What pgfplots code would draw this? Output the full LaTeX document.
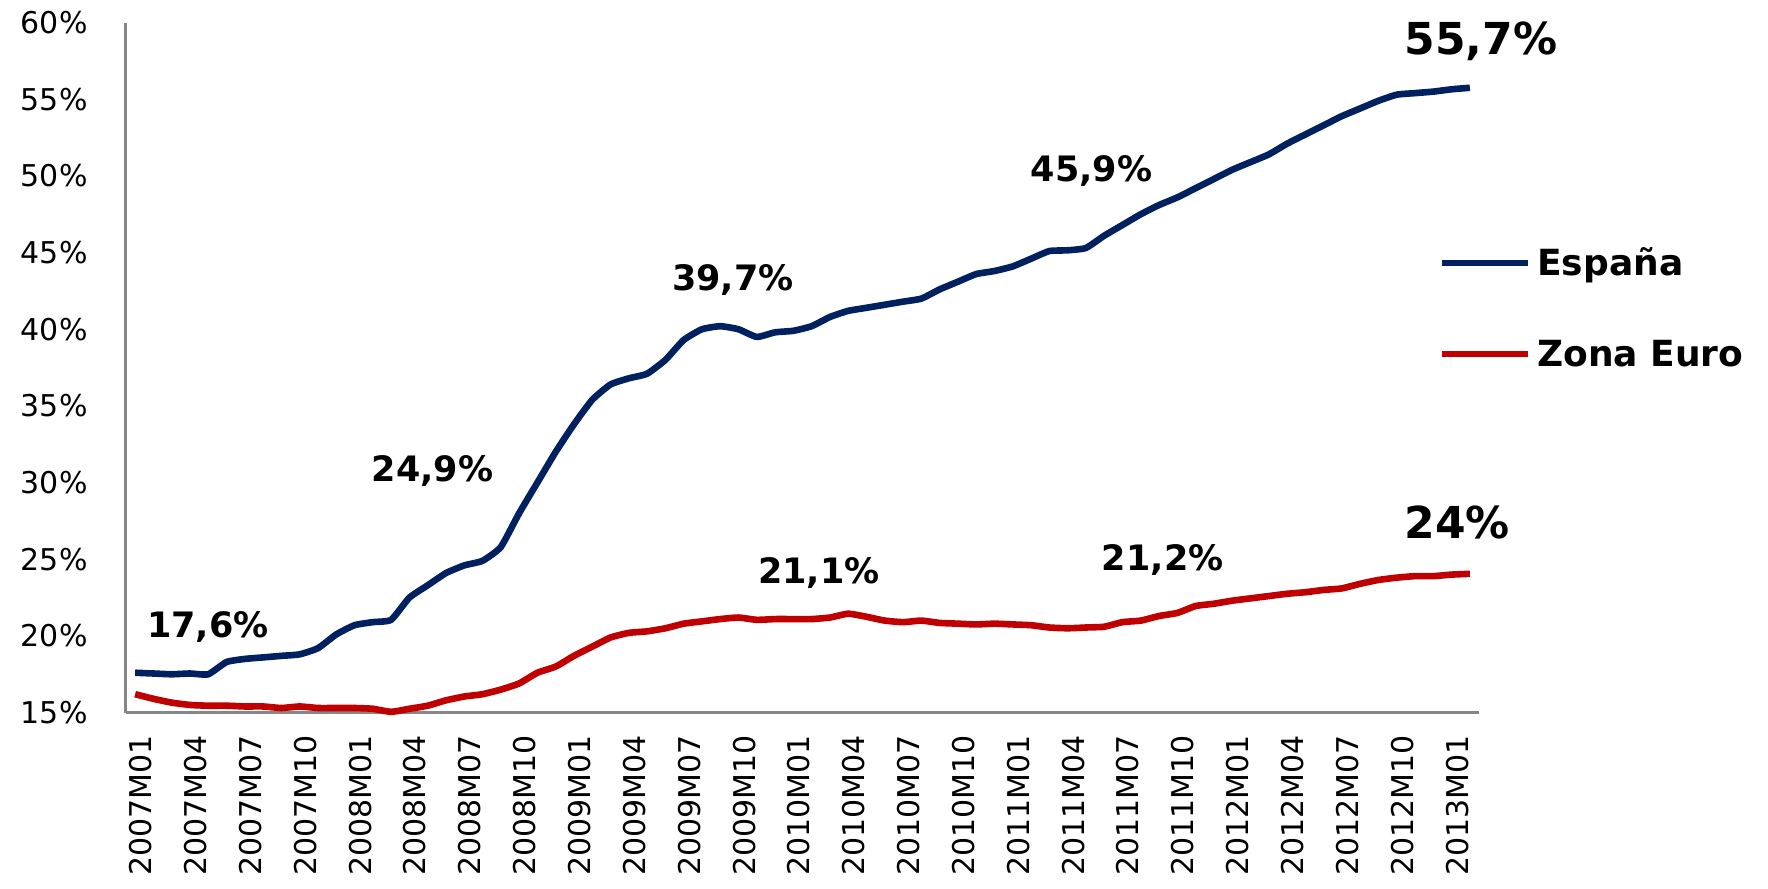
\documentclass[border=0pt]{standalone}
\usepackage{fontspec}
\setmainfont{DejaVu Sans}
\usepackage{pgfplots}
\usepackage{pgfplotstable}
\pgfplotsset{compat=1.18}
\definecolor{esp}{HTML}{002060}
\definecolor{eur}{HTML}{C00000}
\definecolor{axgray}{HTML}{868686}

\pgfplotstableread{
i esp eur
0 17.6 16.2
1 17.55 15.9
2 17.5 15.65
3 17.55 15.5
4 17.5 15.45
5 18.3 15.45
6 18.5 15.4
7 18.6 15.4
8 18.7 15.3
9 18.8 15.4
10 19.2 15.3
11 20.1 15.3
12 20.7 15.3
13 20.9 15.25
14 21.05 15.05
15 22.5 15.25
16 23.3 15.45
17 24.1 15.8
18 24.6 16.05
19 24.9 16.2
20 25.8 16.5
21 28.0 16.9
22 30.0 17.6
23 32.0 18.0
24 33.8 18.7
25 35.4 19.3
26 36.4 19.9
27 36.8 20.2
28 37.1 20.3
29 38.0 20.5
30 39.3 20.8
31 40.0 20.95
32 40.2 21.1
33 40.0 21.2
34 39.5 21.05
35 39.8 21.1
36 39.9 21.1
37 40.2 21.1
38 40.8 21.2
39 41.2 21.45
40 41.4 21.25
41 41.6 21.0
42 41.8 20.9
43 42.0 21.0
44 42.6 20.85
45 43.1 20.8
46 43.6 20.75
47 43.8 20.8
48 44.1 20.75
49 44.6 20.7
50 45.1 20.55
51 45.15 20.5
52 45.3 20.55
53 46.1 20.6
54 46.8 20.9
55 47.5 21.0
56 48.1 21.3
57 48.6 21.5
58 49.2 21.95
59 49.8 22.1
60 50.4 22.3
61 50.9 22.45
62 51.4 22.6
63 52.1 22.75
64 52.7 22.85
65 53.3 23.0
66 53.9 23.1
67 54.4 23.4
68 54.9 23.65
69 55.3 23.8
70 55.4 23.9
71 55.5 23.9
72 55.65 24.0
73 55.75 24.05
}\datatable

\begin{document}
\begin{tikzpicture}
\begin{axis}[
  at={(0pt,0pt)}, anchor=south west,
  scale only axis,
  width=676.5pt, height=345pt,
  xmin=-0.5, xmax=73.5,
  ymin=15, ymax=60,
  axis lines=left,
  axis line style={-, draw=axgray, line width=1.5pt},
  major tick length=0pt,
  xtick={0,3,...,72},
  xticklabels={2007M01,2007M04,2007M07,2007M10,2008M01,2008M04,2008M07,2008M10,2009M01,2009M04,2009M07,2009M10,2010M01,2010M04,2010M07,2010M10,2011M01,2011M04,2011M07,2011M10,2012M01,2012M04,2012M07,2012M10,2013M01},
  ytick={15,20,...,60},
  yticklabels={15\%,20\%,25\%,30\%,35\%,40\%,45\%,50\%,55\%,60\%},
  xticklabel style={xshift=2.8pt, rotate=90, anchor=east, inner sep=0pt, font=\fontsize{15}{18}\selectfont},
  yticklabel style={anchor=east, inner sep=0pt, font=\fontsize{15}{18}\selectfont},
  xticklabel shift=11pt,
  yticklabel shift=19pt,
  clip=false,
]
\addplot[esp, line width=3.3pt, line join=round, smooth, tension=0.3] table[x=i, y=esp] {\datatable};
\addplot[eur, line width=3.3pt, line join=round, smooth, tension=0.3] table[x=i, y=eur] {\datatable};

\node[anchor=base, font=\bfseries\fontsize{17.5}{20}\selectfont] at (axis cs:3.97,19.88) {17,6\%};
\node[anchor=base, font=\bfseries\fontsize{17.5}{20}\selectfont] at (axis cs:16.27,30.04) {24,9\%};
\node[anchor=base, font=\bfseries\fontsize{17.5}{20}\selectfont] at (axis cs:32.69,42.54) {39,7\%};
\node[anchor=base, font=\bfseries\fontsize{17.5}{20}\selectfont] at (axis cs:52.3,49.61) {45,9\%};
\node[anchor=base, font=\bfseries\fontsize{22}{26}\selectfont] at (axis cs:73.6,57.89) {55,7\%};
\node[anchor=base, font=\bfseries\fontsize{17.5}{20}\selectfont] at (axis cs:37.4,23.42) {21,1\%};
\node[anchor=base, font=\bfseries\fontsize{17.5}{20}\selectfont] at (axis cs:56.2,24.29) {21,2\%};
\node[anchor=base, font=\bfseries\fontsize{22}{26}\selectfont] at (axis cs:72.3,26.38) {24\%};

% legend
\draw[esp, line width=3.3pt] (axis description cs:0.9727,0.6516) -- (axis description cs:1.0362,0.6516);
\draw[eur, line width=3.3pt] (axis description cs:0.9727,0.5197) -- (axis description cs:1.0362,0.5197);
\node[anchor=west, inner sep=0pt, font=\bfseries\fontsize{18}{21}\selectfont, yshift=-1.2pt] at (axis description cs:1.0428,0.6516) {España};
\node[anchor=west, inner sep=0pt, font=\bfseries\fontsize{18}{21}\selectfont] at (axis description cs:1.0428,0.5197) {Zona Euro};
\end{axis}
\path (-63pt,-88.2pt) rectangle (821pt,356.3pt);
\end{tikzpicture}
\end{document}
